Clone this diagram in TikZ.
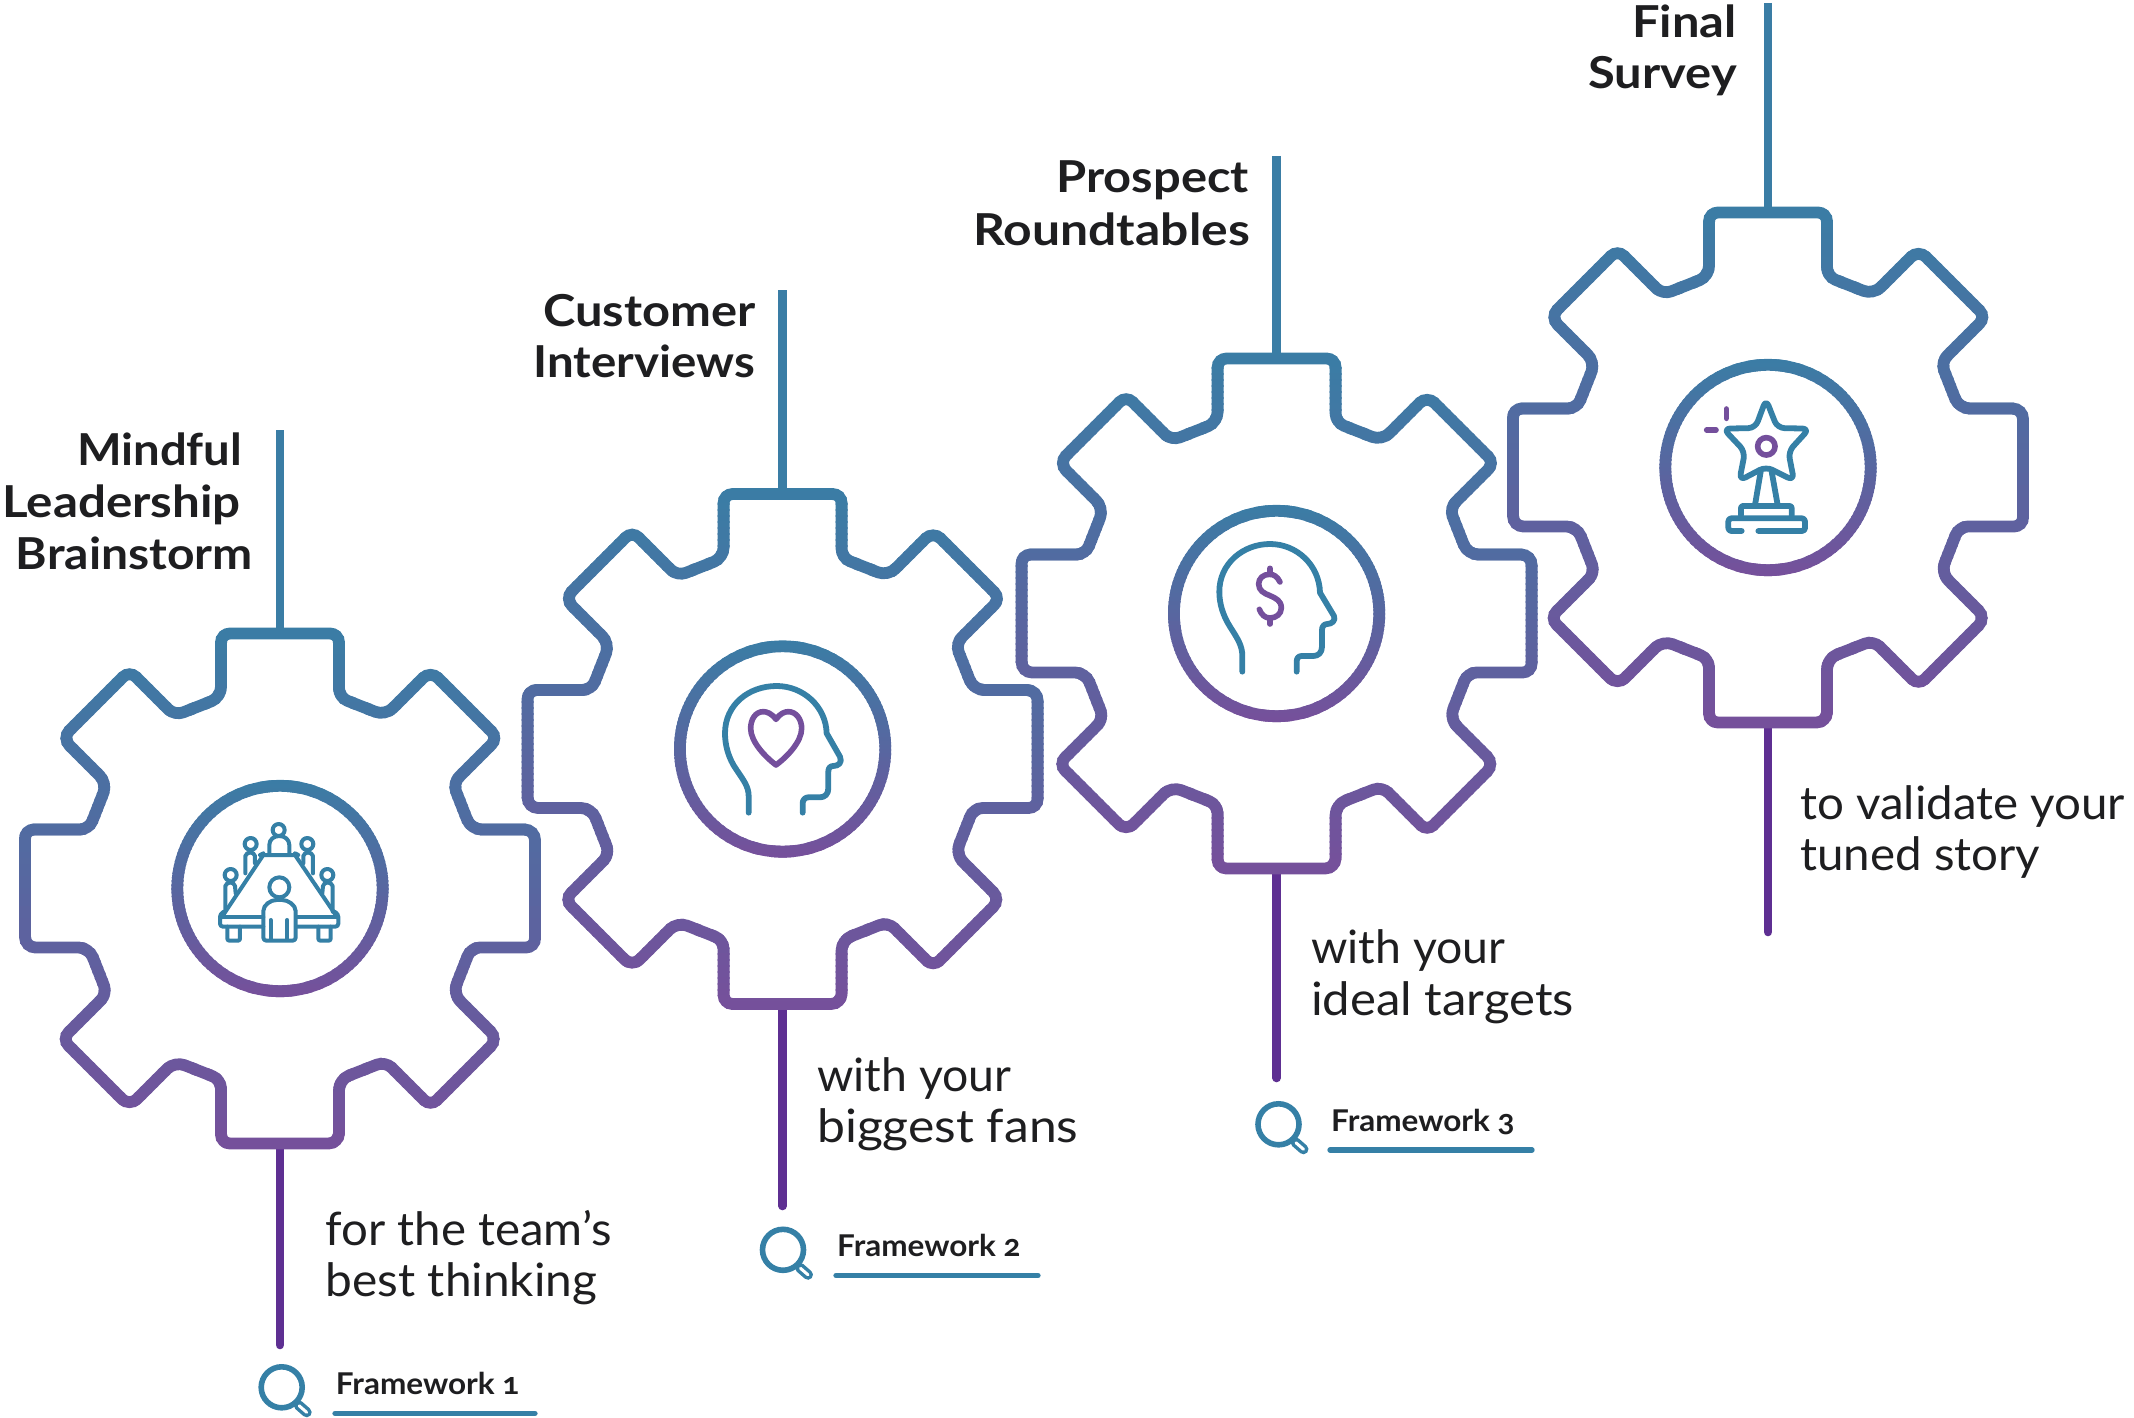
\documentclass[tikz,border=0pt]{standalone}
\usepackage{fontspec}
\setmainfont{Lato}[FakeStretch=1.05]
\newfontfamily\titlef{Lato}[BoldFeatures={FakeStretch=1.11}]
\newfontfamily\fwf{Lato}[BoldFeatures={FakeStretch=1.05},Numbers=OldStyle]
\definecolor{gtop}{HTML}{3A7DA5}
\definecolor{gbot}{HTML}{75509B}
\definecolor{stemtop}{HTML}{3A7DA5}
\definecolor{stembot}{HTML}{5E2F92}
\definecolor{iconblue}{HTML}{3580A6}
\definecolor{iconpurple}{HTML}{744F9C}
\definecolor{ink}{HTML}{1E1E20}
\newcommand{\sx}[2]{\scalebox{#1}[1]{#2}}
\newcommand{\gearoutline}{(-59,-255)
 [rounded corners=9pt] -- (59,-255) -- (59,-191) [rounded corners=10.5pt] -- (105.3,-172.8) -- (150.5,-218) [rounded corners=9pt] -- (218,-150.5) -- (172.8,-105.3) [rounded corners=10.5pt] -- (191,-59) -- (255,-59)
 [rounded corners=9pt] -- (255,59) -- (191,59) [rounded corners=10.5pt] -- (172.8,105.3) -- (218,150.5) [rounded corners=9pt] -- (150.5,218) -- (105.3,172.8) [rounded corners=10.5pt] -- (59,191) -- (59,255)
 [rounded corners=9pt] -- (-59,255) -- (-59,191) [rounded corners=10.5pt] -- (-105.3,172.8) -- (-150.5,218) [rounded corners=9pt] -- (-218,150.5) -- (-172.8,105.3) [rounded corners=10.5pt] -- (-191,59) -- (-255,59)
 [rounded corners=9pt] -- (-255,-59) -- (-191,-59) [rounded corners=10.5pt] -- (-172.8,-105.3) -- (-218,-150.5) [rounded corners=9pt] -- (-150.5,-218) -- (-105.3,-172.8) [rounded corners=10.5pt] -- (-59,-191) [rounded corners=9pt] -- cycle}
\newcommand{\geardraw}[1]{%
 \foreach \yy in {-264,-258,...,258}{%
  \pgfmathtruncatemacro{\pp}{100-(\yy+3+258)/516*100}%
  \pgfmathtruncatemacro{\pp}{max(0,min(100,\pp))}%
  \begin{scope}[shift={(#1)}]
   \clip (-280,\yy) rectangle (280,\yy+7);
   \draw[gtop!\pp!gbot,line width=11.8pt] \gearoutline;
   \end{scope}}%
 \foreach \yy in {-112,-108,...,108}{%
  \pgfmathtruncatemacro{\pp}{100-(\yy+2+108)/216*100}%
  \pgfmathtruncatemacro{\pp}{max(0,min(100,\pp))}%
  \begin{scope}[shift={(#1)}]
   \clip (-120,\yy) rectangle (120,\yy+5);
   \draw[gtop!\pp!gbot,line width=11.8pt] (0,0) circle[radius=102.7pt];
   \end{scope}}%
}
\newcommand{\lens}[1]{%
 \begin{scope}[shift={(#1)}]
  \draw[lensline] (0,0) circle[radius=20.5pt];
  \draw[iconblue,line width=10pt,line cap=round] (17,18) -- (25,25);
  \draw[white,line width=3pt,line cap=round] (17.5,18.5) -- (25,25);
 \end{scope}}
\tikzset{
 x=1pt,y=-1pt,
 stemup/.style={stemtop,line width=8.6pt},
 stemdown/.style={stembot,line width=8.6pt,line cap=round},
 title/.style={font=\fontsize{44}{44}\selectfont\titlef\bfseries,text=ink,anchor=base east,inner sep=0pt},
 body/.style={font=\fontsize{46}{46}\selectfont,text=ink,anchor=base west,inner sep=0pt},
 fwlabel/.style={font=\fontsize{30}{30}\selectfont\fwf\bfseries,text=ink,anchor=base west,inner sep=0pt},
 fwline/.style={iconblue,line width=5.3pt,line cap=round},
 lensline/.style={iconblue,line width=5.6pt},
 iconb/.style={iconblue,line width=5.8pt,line cap=round,line join=round},
 iconbt/.style={iconblue,line width=4pt,line cap=round,line join=round},
 iconp/.style={iconpurple,line width=5.6pt,line cap=round,line join=round},
 zoomed/.style={x=0.3333pt,y=-0.3333pt},
}
\begin{document}
\begin{tikzpicture}[x=1pt,y=-1pt]
\useasboundingbox (0,0) rectangle (2134,1418);
\coordinate (g1) at (280,888.5);
\coordinate (g2) at (782.6,749);
\coordinate (g3) at (1276.6,613.5);
\coordinate (g4) at (1768,467.5);
% stems
\coordinate (s1a) at (280,430); \coordinate (s1b) at (280,634);
\coordinate (s1c) at (280,1143); \coordinate (s1d) at (280,1345);
\coordinate (s2a) at (782.6,290); \coordinate (s2b) at (782.6,494);
\coordinate (s2c) at (782.6,1004); \coordinate (s2d) at (782.6,1206);
\coordinate (s3a) at (1276.6,156); \coordinate (s3b) at (1276.6,359);
\coordinate (s3c) at (1276.6,869); \coordinate (s3d) at (1276.6,1078);
\coordinate (s4a) at (1768,3); \coordinate (s4b) at (1768,213);
\coordinate (s4c) at (1768,723); \coordinate (s4d) at (1768,932);
\foreach \n in {1,2,3,4}{
 \draw[stemup] (s\n a) -- (s\n b);
 \draw[stemdown] (s\n c) -- (s\n d);
}
\geardraw{g1}\geardraw{g2}\geardraw{g3}\geardraw{g4}
% titles
\node[title] (t1a) at (242.5,465.5) {\sx{0.968}{Mindful}};
\node[title] (t1b) at (241,517) {\sx{1.01}{Leadership}};
\node[title] (t1c) at (253,569) {\sx{0.983}{Brainstorm}};
\node[title] (t2a) at (755.5,326.6) {Customer};
\node[title] (t2b) at (755,377) {\sx{0.97}{Interviews}};
\node[title] (t3a) at (1249,193) {Prospect};
\node[title] (t3b) at (1250,245) {\sx{1.02}{Roundtables}};
\node[title] (t4a) at (1737,38) {Final};
\node[title] (t4b) at (1737,88.5) {Survey};
% body
\node[body] (b1a) at (325.6,1245) {\sx{0.981}{for the team’s}};
\node[body] (b1b) at (325.6,1296) {\sx{0.99}{best thinking}};
\node[body] (b2a) at (817,1091.5) {\sx{0.96}{with your}};
\node[body] (b2b) at (817,1142) {\sx{1.032}{biggest fans}};
\node[body] (b3a) at (1311,963.6) {\sx{0.96}{with your}};
\node[body] (b3b) at (1311,1015) {\sx{1.016}{ideal targets}};
\node[body] (b4a) at (1800,819) {\sx{0.983}{to validate your}};
\node[body] (b4b) at (1800,870) {\sx{0.983}{tuned story}};
% frameworks
\node[fwlabel] (f1) at (335.7,1394) {Framework 1};
\node[fwlabel] (f2) at (837,1256) {Framework 2};
\node[fwlabel] (f3) at (1331,1131) {Framework 3};
\coordinate (u1a) at (335,1413.3); \coordinate (u1b) at (535,1413.3);
\coordinate (u2a) at (836,1275.5); \coordinate (u2b) at (1038,1275.5);
\coordinate (u3a) at (1330,1150); \coordinate (u3b) at (1532,1150);
\draw[fwline] (u1a) -- (u1b);
\draw[fwline] (u2a) -- (u2b);
\draw[fwline] (u3a) -- (u3b);
\coordinate (m1) at (281.7,1387.3);
\coordinate (m2) at (783,1249.8);
\coordinate (m3) at (1278.5,1124.3);
\lens{m1}\lens{m2}\lens{m3}
% meeting icon
\begin{scope}[shift={(200,810)},zoomed]
 \draw[iconbt] (65,322) -- (190,135) -- (285,135) -- (412,322);
 \draw[iconbt] (190,322) -- (65,322);
 \draw[iconbt] (290,322) -- (412,322);
 \draw[iconbt,rounded corners=3pt] (190,350) -- (60,350) -- (60,312) -- (72,305);
 \draw[iconbt,rounded corners=3pt] (288,350) -- (415,350) -- (415,312) -- (403,305);
 \draw[iconbt,rounded corners=2pt] (82,350) -- (82,392) -- (120,392) -- (120,350);
 \draw[iconbt,rounded corners=2pt] (355,350) -- (355,392) -- (392,392) -- (392,350);
 \draw[iconbt] (238,232) circle[radius=10pt];
 \draw[iconbt,rounded corners=3pt] (190,392) -- (190,312) .. controls (190,285) and (212,270) .. (238,270) .. controls (264,270) and (287,285) .. (287,312) -- (287,392) -- cycle;
 \draw[iconbt] (212,330) -- (212,390);
 \draw[iconbt] (262,330) -- (262,390);
 \draw[iconbt] (236,60) circle[radius=6pt];
 \draw[iconbt] (208,128) -- (208,105) .. controls (208,88) and (222,78) .. (238,78) .. controls (254,78) and (268,88) .. (268,105) -- (268,128);
 \draw[iconbt] (180,135) -- (190,130);
 \draw[iconbt] (295,135) -- (285,130);
 % side people
 \draw[iconbt] (152,102) circle[radius=6pt];
 \draw[iconbt] (322,102) circle[radius=6pt];
 \draw[iconbt] (92,195) circle[radius=6pt];
 \draw[iconbt] (382,195) circle[radius=6pt];
 \draw[iconbt] (136,190) -- (136,138) .. controls (140,124) and (162,124) .. (165,138) -- (165,160);
 \draw[iconbt] (339,190) -- (339,138) .. controls (335,124) and (313,124) .. (310,138) -- (310,160);
 \draw[iconbt] (76,305) -- (76,228) .. controls (80,214) and (102,214) .. (105,228) -- (107,250);
 \draw[iconbt] (398,305) -- (398,228) .. controls (394,214) and (372,214) .. (369,228) -- (367,250);
\end{scope}
% heart head
\begin{scope}[shift={(700,670)},zoomed]
 \draw[iconb] (146,428) -- (146,378) .. controls (146,350) and (130,330) .. (110,300) .. controls (85,265) and (75,225) .. (75,190) .. controls (75,105) and (145,48) .. (230,48) .. controls (310,48) and (378,110) .. (380,190) -- (420,260) .. controls (428,278) and (415,288) .. (400,288) .. controls (390,288) and (385,295) .. (385,305) -- (385,355) .. controls (385,372) and (375,382) .. (360,382) -- (325,382) .. controls (315,382) and (308,390) .. (308,400) -- (308,428);
 \draw[iconp] (228,148) .. controls (215,130) and (200,125) .. (190,125) .. controls (165,125) and (152,150) .. (152,175) .. controls (152,215) and (195,260) .. (228,285) .. controls (262,260) and (305,215) .. (305,175) .. controls (305,150) and (290,125) .. (265,125) .. controls (255,125) and (240,130) .. (228,148) -- cycle;
\end{scope}
% dollar head
\begin{scope}[shift={(1200,530)},zoomed]
 \draw[iconb] (127,425) -- (127,378) .. controls (127,345) and (110,322) .. (90,290) .. controls (68,255) and (58,220) .. (58,185) .. controls (58,100) and (130,42) .. (210,42) .. controls (290,42) and (358,105) .. (360,188) -- (402,258) .. controls (408,272) and (395,282) .. (382,282) .. controls (372,282) and (366,290) .. (366,300) -- (366,350) .. controls (366,368) and (355,378) .. (340,378) -- (305,378) .. controls (295,378) and (290,385) .. (290,395) -- (290,425);
 \draw[iconp] (240,156) .. controls (232,140) and (222,133) .. (208,133) .. controls (190,133) and (176,145) .. (176,162) .. controls (176,182) and (192,190) .. (210,197) .. controls (228,205) and (244,212) .. (244,234) .. controls (244,252) and (228,264) .. (210,264) .. controls (195,264) and (185,255) .. (178,238);
 \draw[iconp] (210,115) -- (210,133);
 \draw[iconp] (210,264) -- (210,282);
\end{scope}
% star trophy
\begin{scope}[shift={(1690,390)},zoomed]
 \draw[iconb,rounded corners=7pt] (228,28) -- (262,114) -- (358,116) -- (295,185) -- (312,272) -- (228,230) -- (148,272) -- (165,185) -- (100,116) -- (196,114) -- cycle;
 \draw[iconp] (229,169) circle[radius=8.7pt];
 \draw[iconb] (212,245) -- (195,345);
 \draw[iconb] (245,245) -- (263,345);
 \draw[iconb,rounded corners=2pt] (153,376) -- (153,348) -- (305,348) -- (305,376);
 \draw[iconb,rounded corners=3pt] (155,423) -- (115,423) -- (115,385) -- (345,385) -- (345,423) -- (205,423);
 \draw[iconp] (109,57) -- (109,85);
 \draw[iconp] (50,120) -- (78,120);
\end{scope}
\end{tikzpicture}
\end{document}
